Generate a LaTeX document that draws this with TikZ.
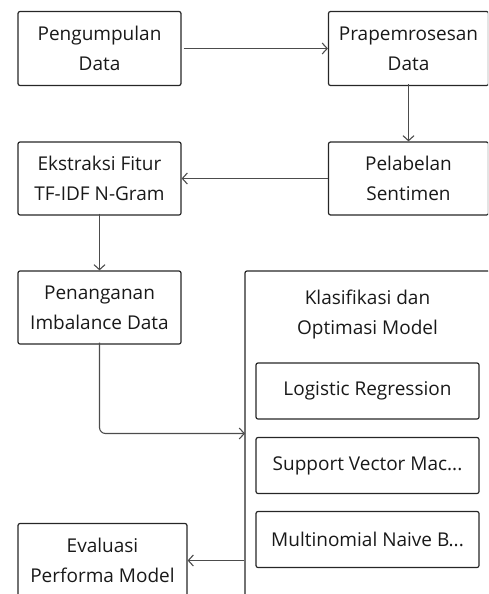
\documentclass[tikz,border=0pt]{standalone}
\usepackage{fontspec}
\setmainfont{Open Sans}
\usetikzlibrary{arrows.meta}
\begin{document}
\begin{tikzpicture}[x=1pt,y=-1pt,
  stepbox/.style={draw=black!85, line width=1.2pt, rounded corners=2pt,
    align=center, inner sep=0pt, text=black!90,
    font=\fontsize{19}{30}\selectfont},
  algobox/.style={stepbox, minimum width=223pt, minimum height=56pt},
  arr/.style={draw=black!70, line width=1.1pt,
    -{Straight Barb[length=5pt,width=11pt,line width=1.1pt]}}]
\useasboundingbox (0,0) rectangle (488,594);
\clip (0,0) rectangle (488,594);
% top row
\node[stepbox, minimum width=163pt, minimum height=74pt] (kumpul) at (99.5,48.5) {Pengumpulan\\Data};
\node[stepbox, minimum width=160pt, minimum height=74pt] (prapro) at (408.5,48.5) {Prapemrosesan\\Data};
% second row
\node[stepbox, minimum width=160pt, minimum height=73pt] (label) at (408.5,178.5) {Pelabelan\\Sentimen};
\node[stepbox, minimum width=163pt, minimum height=73pt] (fitur) at (99.5,178.5) {Ekstraksi Fitur\\TF-IDF N-Gram};
% third row
\node[stepbox, minimum width=163pt, minimum height=73pt] (imbal) at (99.5,307.5) {Penanganan\\Imbalance Data};
\node[stepbox, minimum width=245pt, minimum height=349pt] (klas) at (367.5,445.5) {};
\node[align=center, text=black!90, font=\fontsize{19}{30}\selectfont] (klastitle) at (367.5,315) {Klasifikasi dan\\Optimasi Model};
\node[algobox] (lr) at (367.5,391) {Logistic Regression};
\node[algobox] (svm) at (367.5,465.5) {Support Vector Mac...};
\node[algobox] (mnb) at (367.5,539.5) {Multinomial Naive B...};
% evaluation
\node[stepbox, minimum width=169pt, minimum height=74pt] (eval) at (102.5,560.5) {Evaluasi\\Performa Model};
\coordinate (klasin) at (245,433.5);
% connectors
\draw[arr] ([xshift=2pt]kumpul.east) -- (prapro.west);
\draw[arr] ([yshift=2pt]prapro.south) -- (label.north);
\draw[arr] (label.west) -- (fitur.east);
\draw[arr] ([yshift=2pt]fitur.south) -- (imbal.north);
\draw[arr, rounded corners=6pt] ([yshift=2pt]imbal.south) |- (klasin);
\draw[arr] (klas.west |- eval.east) -- (eval.east);
\end{tikzpicture}
\end{document}
